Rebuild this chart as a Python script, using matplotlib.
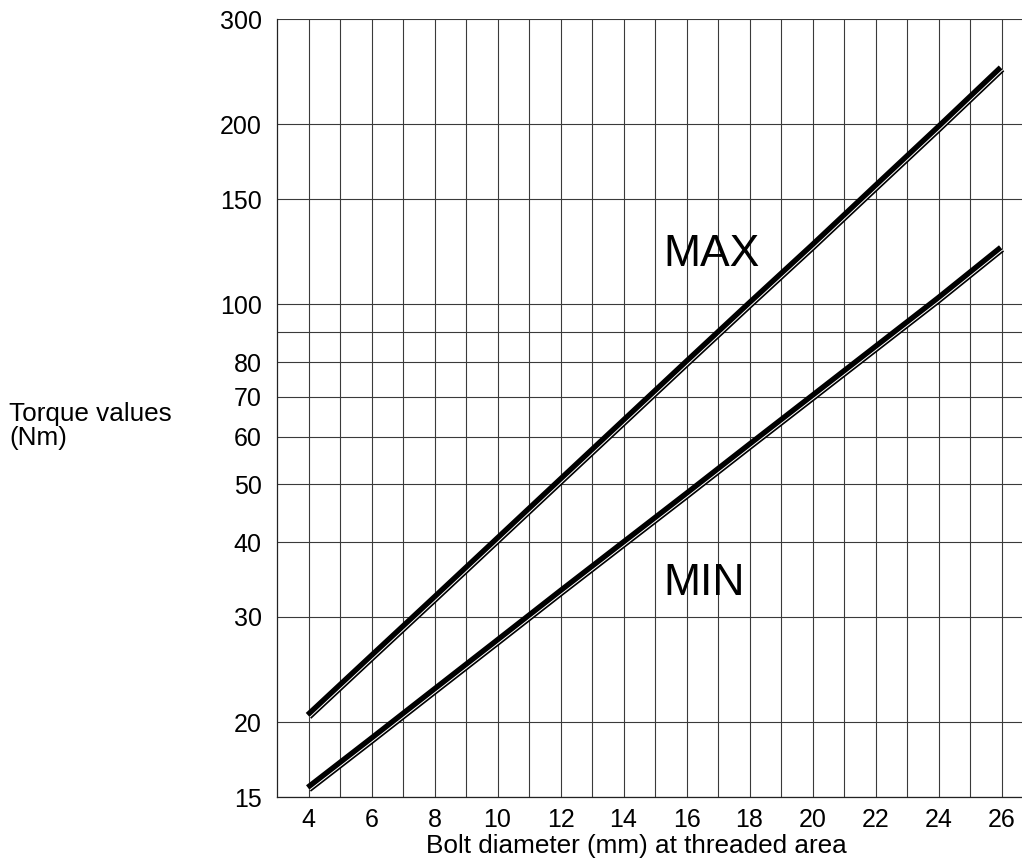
import matplotlib
matplotlib.use("Agg")
import matplotlib.pyplot as plt
import matplotlib.patheffects as pe

plt.rcParams['font.family'] = ['Liberation Sans', 'DejaVu Sans']

# values
diameters = [4, 6, 8, 10, 12, 14, 16, 18, 20, 22, 24, 26]
torque_max = [20.5, 25.7, 32.2, 40.4, 50.7, 63.6, 79.8, 100, 125, 157, 197, 248]
torque_min = [15.5, 18.7, 22.6, 27.3, 33.0, 39.8, 48.0, 58.0, 70.0, 84.5, 102, 124]

x_ticks = [4, 6, 8, 10, 12, 14, 16, 18, 20, 22, 24, 26]
y_grid = [15, 20, 30, 40, 50, 60, 70, 80, 90, 100, 150, 200, 300]
y_labels = ['15', '20', '30', '40', '50', '60', '70', '80', '', '100', '150', '200', '300']

fig = plt.figure(figsize=(10.22, 8.65), dpi=100)
ax = fig.add_axes([277 / 1022, 1 - 797 / 865, 1 - 277 / 1022, (797 - 19) / 865])

ax.set_yscale('log')
ax.set_xlim(3, 26.65)
ax.set_ylim(15, 300)

# grid: every millimetre, and every labelled torque value (plus 90)
for xv in range(4, 27):
    ax.axvline(xv, color='#3a3a3a', lw=0.8, zorder=1)
for yv in y_grid:
    ax.axhline(yv, color='#3a3a3a', lw=0.8, zorder=1)

ax.set_xticks(x_ticks)
ax.set_xticklabels([str(v) for v in x_ticks], fontsize=18)
ax.set_yticks(y_grid)
ax.set_yticklabels(y_labels, fontsize=18)
ax.yaxis.set_minor_locator(matplotlib.ticker.NullLocator())
ax.tick_params(axis='both', length=0)
ax.tick_params(axis='x', pad=8)
ax.tick_params(axis='y', pad=11)

for s in ['top', 'right']:
    ax.spines[s].set_visible(False)
for s in ['left', 'bottom']:
    ax.spines[s].set_color('#222222')
    ax.spines[s].set_linewidth(0.9)

effects = [pe.Stroke(linewidth=5.8, foreground='black'),
           pe.Stroke(offset=(0.9, -1.0), linewidth=0.7, foreground='white')]
ax.plot(diameters, torque_max, color='black', lw=5.8, solid_capstyle='butt',
        path_effects=effects, zorder=3)
ax.plot(diameters, torque_min, color='black', lw=5.8, solid_capstyle='butt',
        path_effects=effects, zorder=3)

ax.text(15.25, 116, 'MAX', fontsize=32, ha='left', va='baseline', zorder=4)
ax.text(15.25, 32.7, 'MIN', fontsize=32, ha='left', va='baseline', zorder=4)

fig.text(636 / 1022, 1 - 846 / 865, 'Bolt diameter (mm) at threaded area',
         fontsize=18.8, ha='center', va='center')
fig.text(9 / 1022, 1 - 426 / 865, 'Torque values\n(Nm)', fontsize=18.8,
         ha='left', va='center', linespacing=1.05)

fig.savefig('out.png', dpi=100)
